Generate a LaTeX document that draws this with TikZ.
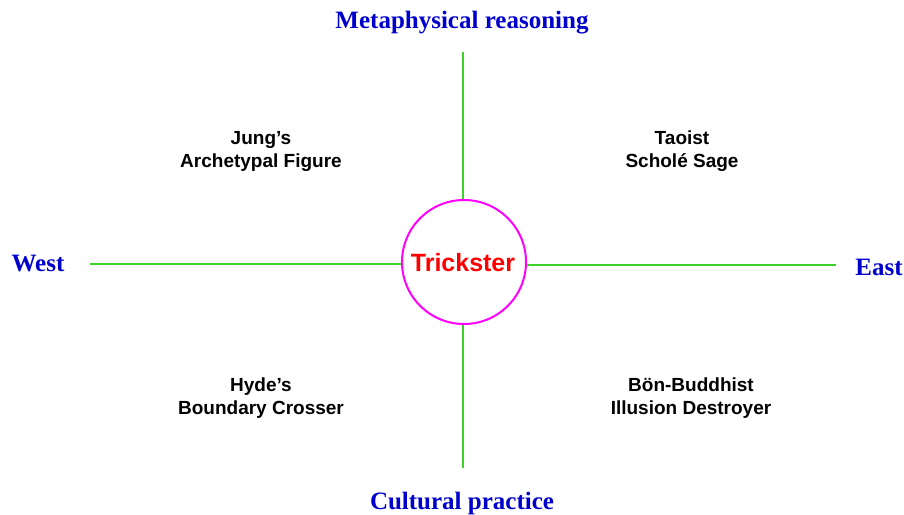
\documentclass[tikz,border=0pt]{standalone}
\usepackage{fontspec}
\setmainfont{Liberation Serif}
\setsansfont{Liberation Sans}
\definecolor{axisblue}{RGB}{0,0,204}
\definecolor{linegreen}{RGB}{60,210,40}
\definecolor{ringmag}{RGB}{255,0,255}
\begin{document}
\begin{tikzpicture}[x=1pt,y=-1pt,
  axislabel/.style={font=\fontsize{25}{30}\selectfont\rmfamily\bfseries, text=axisblue, inner sep=0pt},
  quad/.style={font=\fontsize{19}{23}\selectfont\sffamily\bfseries, align=center, inner sep=0pt},
  axisline/.style={draw=linegreen, line width=1.8pt}]
\useasboundingbox (0,0) rectangle (904,514);
\node[circle, draw=ringmag, line width=2pt, minimum size=124pt, inner sep=0pt] (c) at (464,262) {};
\node[font=\fontsize{25}{30}\selectfont\sffamily\bfseries, text=red] (t) at (463,263) {Trickster};
\coordinate (top) at (463,52);
\coordinate (bot) at (463,468);
\coordinate (lft) at (90,264);
\coordinate (rgt) at (836,265);
\draw[axisline] (top) -- (top |- c.north);
\draw[axisline] (bot |- c.south) -- (bot);
\draw[axisline] (lft) -- (lft -| c.west);
\draw[axisline] (rgt -| c.east) -- (rgt);
\node[axislabel] (meta) at (462,23) {Metaphysical reasoning};
\node[axislabel] (cult) at (462,503) {Cultural practice};
\node[axislabel] (west) at (38,264) {West};
\node[axislabel] (east) at (879,267) {East};
\node[quad] (jung) at (261,151) {Jung’s\\Archetypal Figure};
\node[quad] (tao) at (682,151) {Taoist\\Scholé Sage};
\node[quad] (hyde) at (261,398) {Hyde’s\\Boundary Crosser};
\node[quad] (bon) at (691,398) {Bön-Buddhist\\Illusion Destroyer};
\end{tikzpicture}
\end{document}
